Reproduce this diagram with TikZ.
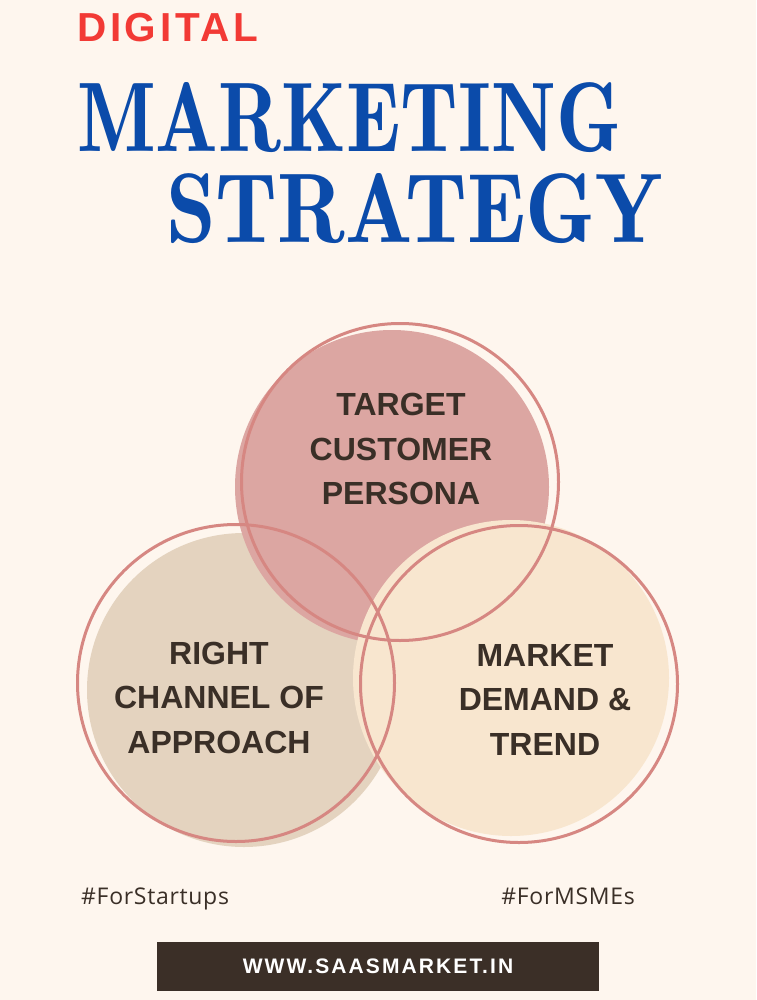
\documentclass[tikz,border=0pt]{standalone}
\usepackage{fontspec}
\usepackage{graphicx}
\newfontfamily\labelfont{Liberation Sans}
\newfontfamily\digitalfont[LetterSpace=9]{Liberation Sans}
\newfontfamily\webfont[LetterSpace=10]{Liberation Sans}
\newfontfamily\hashfont[LetterSpace=3]{Open Sans}
\IfFontExistsTF{Latin Modern Roman Demi}
  {\newfontfamily\titlefont{Latin Modern Roman Demi}}
  {\newcommand\titlefont{\bfseries}}
\definecolor{bg}{HTML}{FEF6EE}
\definecolor{ringc}{HTML}{D68782}
\definecolor{topc}{HTML}{DCA6A2}
\definecolor{leftc}{HTML}{E4D3BF}
\definecolor{rightc}{HTML}{F8E6CF}
\definecolor{ink}{HTML}{3A2F27}
\definecolor{banner}{HTML}{3B2F27}
\definecolor{red}{HTML}{F23A35}
\definecolor{blue}{HTML}{0B4BAA}
\begin{document}
\begin{tikzpicture}[x=1pt,y=-1pt,
  ring/.style={circle, draw=ringc, line width=3pt, minimum size=317pt, inner sep=0pt},
  lbl/.style={font=\labelfont\bfseries\fontsize{32}{44.5}\selectfont, text=ink, align=center, inner sep=0pt},
  hash/.style={font=\hashfont\fontsize{23}{23}\selectfont, text=ink, inner sep=0pt},
  title/.style={text=blue, inner sep=0pt, anchor=base west}]
\useasboundingbox (0,0) rectangle (756,1000);
\fill[bg] (0,0) rectangle (756,1000);
% titles
\node[inner sep=0pt, anchor=base west, text=red, font=\digitalfont\bfseries\fontsize{40.5}{40.5}\selectfont] (digital) at (77,42) {DIGITAL};
\node[title] (marketing) at (77,152) {\resizebox{544pt}{69pt}{\titlefont\fontsize{100}{100}\selectfont MARKETING}};
\node[title] (strategy) at (166,242) {\resizebox{497pt}{69pt}{\titlefont\fontsize{100}{100}\selectfont STRATEGY}};
% circle fills
\fill[leftc] (244,690) circle (157pt);
\fill[topc] (392,487) circle (157pt);
\fill[rightc] (511,678) circle (158pt);
% outlines
\node[ring] (ringtop) at (400,482) {};
\node[ring] (ringleft) at (236,683) {};
\node[ring] (ringright) at (519,684) {};
% labels
\node[lbl] (ttop) at (401,449) {TARGET\\CUSTOMER\\PERSONA};
\node[lbl] (tleft) at (219,697.5) {RIGHT\\CHANNEL OF\\APPROACH};
\node[lbl] (tright) at (545,699.5) {MARKET\\DEMAND \&\\TREND};
% hashtags
\node[hash, anchor=base west] (h1) at (81,904) {\#ForStartups};
\node[hash, anchor=base east] (h2) at (635,904) {\#ForMSMEs};
% banner
\node[fill=banner, minimum width=442pt, minimum height=49pt, inner sep=0pt, text=white, font=\webfont\bfseries\fontsize{21}{21}\selectfont] (web) at (378,966.5) {WWW.SAASMARKET.IN};
\end{tikzpicture}
\end{document}
